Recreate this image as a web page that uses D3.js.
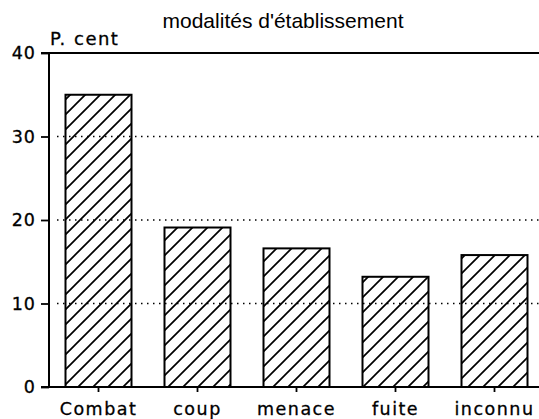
<!DOCTYPE html>
<html><head><meta charset="utf-8">
<script src="https://cdn.jsdelivr.net/npm/d3@7"></script>
<style>body{margin:0;background:#fff}</style>
</head><body>
<script>
const categories = ["Combat", "coup", "menace", "fuite", "inconnu"];
const values = [35, 19.1, 16.6, 13.2, 15.8];
const yTicks = [0, 10, 20, 30, 40];
const gridValues = [10, 20, 30];
const title = "modalités d'établissement";
const yLabel = "P. cent";

const W = 539, H = 419;
const mLeft = 49, mRight = 544, mTop = 53, mBottom = 387;

const svg = d3.select("body").append("svg").attr("width", W).attr("height", H);

const defs = svg.append("defs");
const pat = defs.append("pattern").attr("id", "hatch").attr("patternUnits", "userSpaceOnUse")
  .attr("width", 15).attr("height", 15);
pat.append("path").attr("d", "M0,15 L15,0 M-4,4 L4,-4 M11,19 L19,11")
  .attr("stroke", "#000").attr("stroke-width", 1.7).attr("fill", "none");

const x = d3.scaleBand().domain(categories).range([mLeft, mRight]).paddingInner(1/3).paddingOuter(1/6);
const y = d3.scaleLinear().domain([0, 40]).range([mBottom, mTop]);

// dotted gridlines
svg.append("g").selectAll("line").data(gridValues).join("line")
  .attr("x1", mLeft + 8).attr("x2", W).attr("y1", d => y(d)).attr("y2", d => y(d))
  .attr("stroke", "#000").attr("stroke-width", 1.6).attr("stroke-dasharray", "1.5,4.5");

// top line
svg.append("line").attr("x1", mLeft - 8).attr("x2", W).attr("y1", y(40)).attr("y2", y(40))
  .attr("stroke", "#000").attr("stroke-width", 1.8);

// bars
svg.append("g").selectAll("rect").data(values).join("rect")
  .attr("x", (d, i) => x(categories[i])).attr("width", x.bandwidth())
  .attr("y", d => y(d)).attr("height", d => y(0) - y(d))
  .attr("fill", "url(#hatch)").attr("stroke", "#000").attr("stroke-width", 2);

// y axis
const yAxis = d3.axisLeft(y).tickValues(yTicks).tickSize(8).tickPadding(5).tickFormat(d3.format("d"));
const gy = svg.append("g").attr("transform", `translate(${mLeft},0)`).call(yAxis);
gy.select(".domain").attr("stroke-width", 2).attr("d", `M0,${mTop}V${mBottom}`);
gy.selectAll(".tick line").attr("stroke-width", 1.8);
gy.selectAll("text").attr("font-family", "DejaVu Sans").attr("font-size", 17.5)
  .attr("letter-spacing", 1).attr("fill", "#000").attr("stroke", "#000").attr("stroke-width", 0.3);

// x axis
const xAxis = d3.axisBottom(x).tickSize(5).tickPadding(11);
const gx = svg.append("g").attr("transform", `translate(0,${mBottom})`).call(xAxis);
gx.select(".domain").attr("stroke-width", 2).attr("d", `M${mLeft - 8},0H${W}`);
gx.selectAll(".tick line").attr("stroke-width", 1.8);
gx.selectAll("text").attr("font-family", "DejaVu Sans").attr("font-size", 17.5)
  .attr("letter-spacing", 1.5).attr("fill", "#000").attr("stroke", "#000").attr("stroke-width", 0.3);

// title
svg.append("text").attr("x", 283).attr("y", 28).attr("text-anchor", "middle")
  .attr("font-family", "Liberation Sans, Arial, sans-serif").attr("font-size", 21)
  .text(title);

// y label
svg.append("text").attr("x", 50).attr("y", 45)
  .attr("font-family", "DejaVu Sans").attr("font-size", 18).attr("letter-spacing", 1.5)
  .attr("stroke", "#000").attr("stroke-width", 0.3)
  .text(yLabel);
</script>
</body></html>
